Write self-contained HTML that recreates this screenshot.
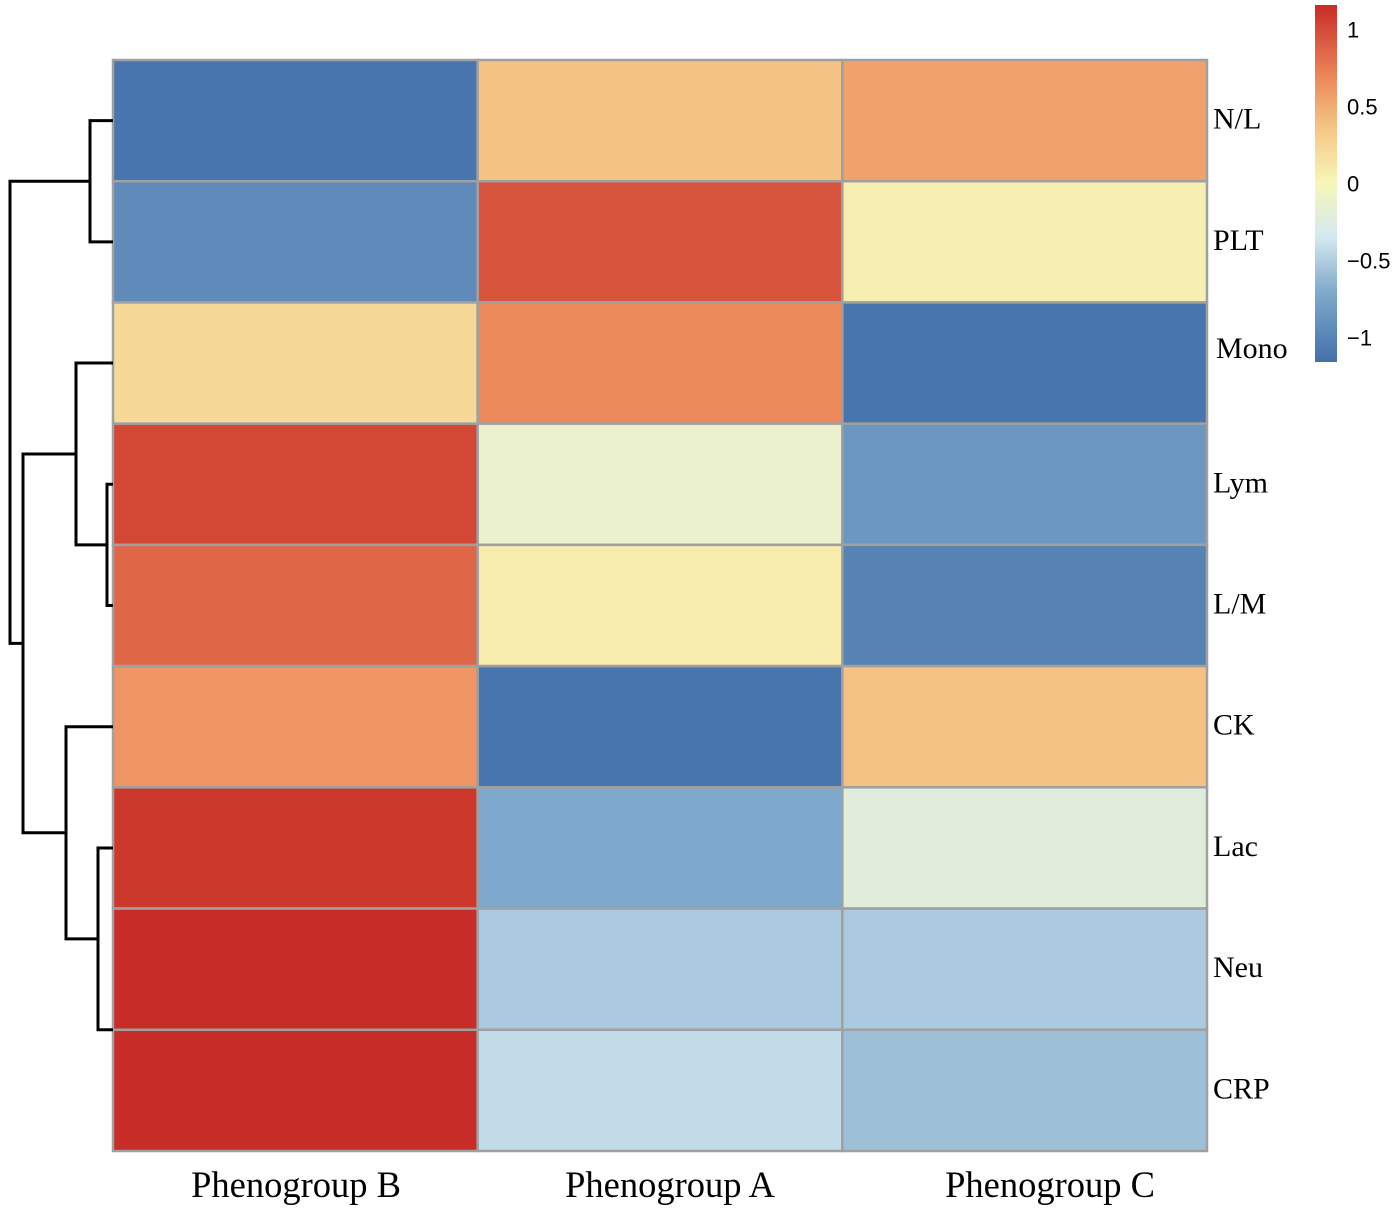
<!DOCTYPE html>
<html><head><meta charset="utf-8"><style>
html,body{margin:0;padding:0;background:#fff;}
svg{display:block;}
</style></head><body>
<svg id="chart" width="1400" height="1214" xmlns="http://www.w3.org/2000/svg">
<defs><linearGradient id="lg" x1="0" y1="1" x2="0" y2="0"></linearGradient></defs>
<g id="cells"></g>
<g id="dendro" stroke="#000" stroke-width="3" fill="none"></g>
<g id="labels"></g>
<g id="legend"></g>
</svg>
<script>
const rows = ["N/L","PLT","Mono","Lym","L/M","CK","Lac","Neu","CRP"];
const cols = ["Phenogroup B","Phenogroup A","Phenogroup C"];
const colB = [-1.12,-0.95,0.22,1.02,0.86,0.62,1.1,1.28,1.28];
const colA = [0.38,0.95,0.68,-0.12,0.08,-1.12,-0.72,-0.52,-0.42];
const colC = [0.55,0.06,-1.12,-0.85,-1.02,0.38,-0.22,-0.52,-0.58];
const legendTicks = [1,0.5,0,-0.5,-1];
const legendTickLabels = ["1","0.5","0","\u22120.5","\u22121"];
const vmin=-1.16, vmax=1.16;
const stops=[[-1.16,[67,112,170]],[-0.7,[128,170,204]],[-0.35,[212,232,240]],[0,[247,246,186]],[0.35,[245,200,134]],[0.7,[236,134,88]],[1.16,[200,44,38]]];
function color(v){v=Math.max(vmin,Math.min(vmax,v));
 for(let i=0;i<stops.length-1;i++){const a=stops[i],b=stops[i+1];
  if(v<=b[0]){const t=(v-a[0])/(b[0]-a[0]);const c=a[1].map((x,k)=>Math.round(x+(b[1][k]-x)*t));return `rgb(${c})`;}}
 return `rgb(${stops[stops.length-1][1]})`;}
const NS="http://www.w3.org/2000/svg";
function mk(t,a,p){const e=document.createElementNS(NS,t);for(const k in a)e.setAttribute(k,a[k]);p.appendChild(e);return e;}
const x0=113,x1=1207,y0=60,y1=1151;
const cw=(x1-x0)/cols.length, rh=(y1-y0)/rows.length;
const xc=i=>x0+i*cw, yr=i=>y0+i*rh;
const data=[colB,colA,colC];
const cells=document.getElementById('cells');
data.forEach((arr,ci)=>arr.forEach((v,ri)=>{
 const r=mk('rect',{x:xc(ci),y:yr(ri),width:cw,height:rh,fill:color(v),stroke:'#a0a0a0','stroke-width':2.5},cells);
 
 
}));
const labels=document.getElementById('labels');
rows.forEach((n,i)=>{const t=mk('text',{x:1213,y:yr(i)+rh/2+8,'font-family':'Liberation Serif, serif','font-size':30,fill:'#000'},labels);
 if(n==='Mono'){t.setAttribute('x',1216);t.setAttribute('y',358);}
 t.textContent=n;
 
 });
const colLabelX=[296,670,1050];
cols.forEach((n,i)=>{const t=mk('text',{x:colLabelX[i],y:1197,'text-anchor':'middle','font-family':'Liberation Serif, serif','font-size':36.5,fill:'#000'},labels);
 t.textContent=n;
 
 });
const dendro=document.getElementById('dendro');
const c=i=>yr(i)+rh/2;
function join(x,ya,yb,xa,xb){mk('path',{d:`M${xa},${ya}H${x}V${yb}H${xb}`},dendro);}
const m01=(c(0)+c(1))/2; join(90,c(0),c(1),113,113);
const m34=(c(3)+c(4))/2; join(107,c(3),c(4),113,113);
const m234=(c(2)+m34)/2; join(76,c(2),m34,113,107);
const m78=(c(7)+c(8))/2;
const m678=(c(6)+m78)/2; join(98,c(6),m78,113,113);
const m5678=(c(5)+m678)/2; join(66,c(5),m678,113,98);
const mB=(m234+m5678)/2; join(23,m234,m5678,76,66);
join(10,m01,mB,90,23);
const lg=document.getElementById('lg');
for(let i=0;i<=20;i++){const v=vmin+(vmax-vmin)*i/20;mk('stop',{offset:(i/20),'stop-color':color(v)},lg);}
const legend=document.getElementById('legend');
const ly0=5,ly1=362, ly=v=>ly1-(v-vmin)/(vmax-vmin)*(ly1-ly0);
const bar=mk('rect',{x:1315,y:ly0,width:22,height:ly1-ly0,fill:'url(#lg)'},legend);


legendTicks.forEach((v,i)=>{const t=mk('text',{x:1347,y:ly(v)+8,'font-family':'Liberation Sans, sans-serif','font-size':22,fill:'#000'},legend);
 t.textContent=legendTickLabels[i];
 
 });
</script>
</body></html>
